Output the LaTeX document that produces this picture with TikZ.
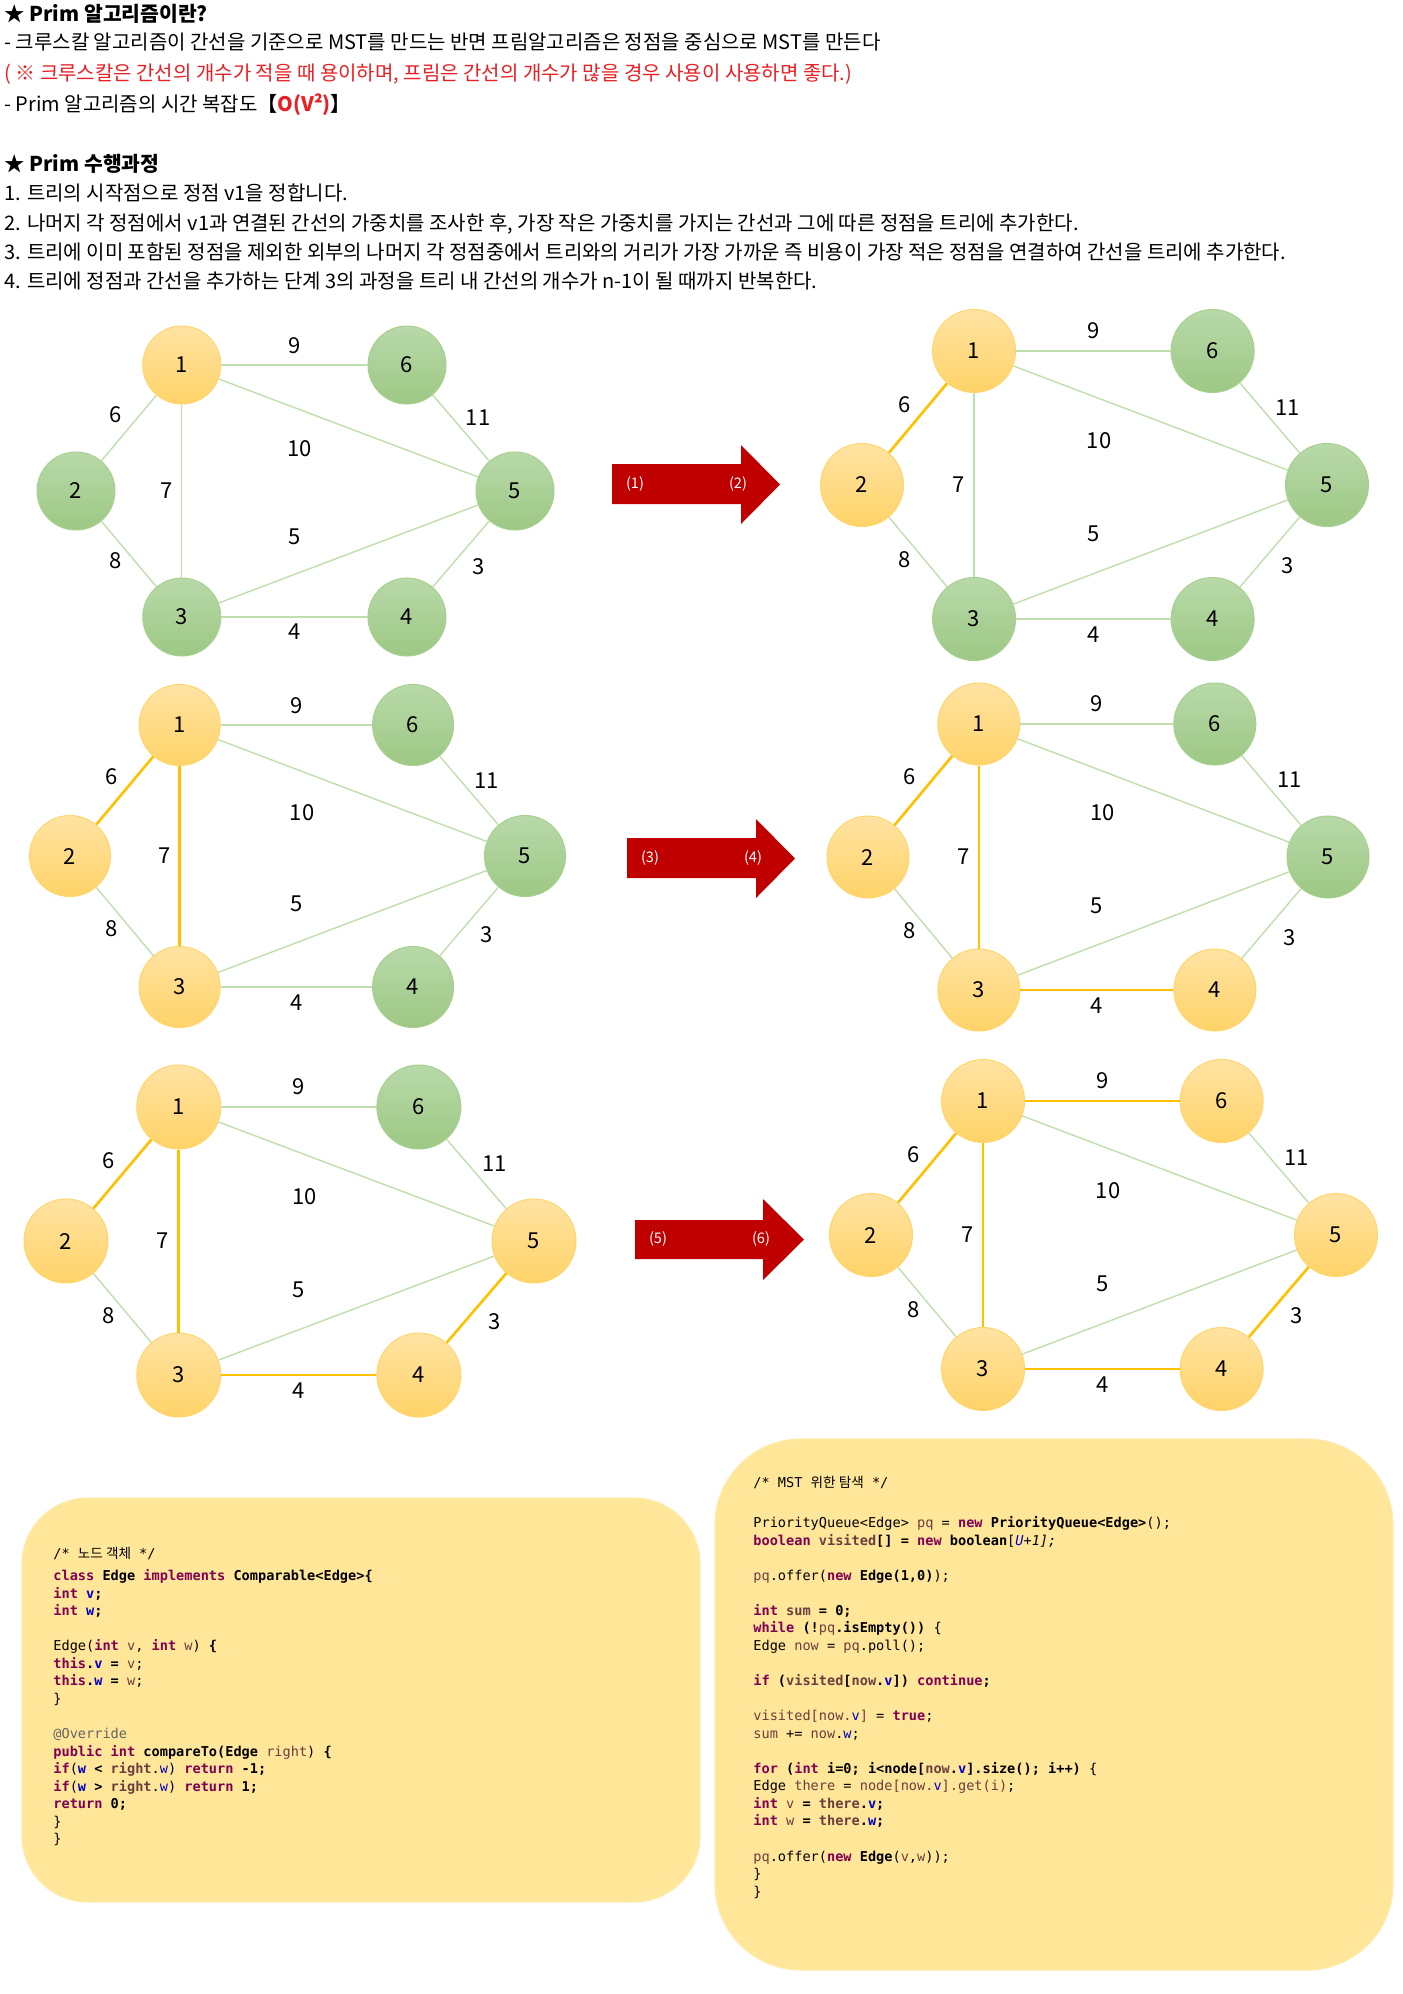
\documentclass[tikz,border=0pt]{standalone}
\usepackage{fontspec}
\setmainfont{Noto Sans CJK KR}
\setmonofont{DejaVu Sans Mono}
\newfontfamily\krf{Noto Sans CJK KR}
\definecolor{otop}{RGB}{255,227,163}
\definecolor{obot}{RGB}{255,211,104}
\definecolor{obd}{RGB}{255,214,110}
\definecolor{gtop}{RGB}{184,217,169}
\definecolor{gbot}{RGB}{157,200,132}
\definecolor{gbd}{RGB}{168,208,142}
\definecolor{gline}{RGB}{193,222,174}
\definecolor{oline}{RGB}{255,192,0}
\definecolor{arrred}{RGB}{192,0,0}
\definecolor{txtred}{RGB}{232,32,36}
\definecolor{boxfill}{RGB}{255,230,153}
\definecolor{kwc}{RGB}{127,0,85}
\definecolor{fdc}{RGB}{0,0,192}
\definecolor{lvc}{RGB}{106,62,62}
\definecolor{annc}{RGB}{100,100,100}
\newcommand\kw[1]{\textcolor{kwc}{\textbf{#1}}}
\newcommand\fd[1]{\textcolor{fdc}{#1}}
\newcommand\lv[1]{\textcolor{lvc}{#1}}
\newcommand\bd[1]{\textbf{#1}}
\tikzset{
  vtx/.style={circle, inner sep=0pt, line width=0.5pt, font=\fontsize{11}{13}\selectfont},
  gv/.style={top color=gtop, bottom color=gbot, draw=gbd},
  ov/.style={top color=otop, bottom color=obot, draw=obd},
  ge/.style={draw=gline, line width=0.7pt},
  oe/.style={draw=oline, line width=1.3pt},
  elab/.style={inner sep=0pt, font=\fontsize{11}{13}\selectfont},
  hdr/.style={anchor=base west, inner sep=0pt, font=\fontsize{10}{12}\selectfont},
  hdrb/.style={anchor=base west, inner sep=0pt, font=\fontsize{10.2}{12}\selectfont\bfseries},
  codetxt/.style={anchor=base west, inner sep=0pt, font=\ttfamily\fontsize{6.8}{8}\selectfont},
  arrlab/.style={inner sep=0pt, text=white, font=\fontsize{7.3}{8}\selectfont},
  codebox/.style={fill=boxfill, draw=boxfill!80!white, line width=0.6pt}
}
% vertex: #1 prefix #2 index #3 x #4 y #5 diameter(pt) #6 k
\newcommand\gnd[6]{%
  \ifnum#2>#6\relax\def\vxsty{gv}\else\def\vxsty{ov}\fi
  \node[vtx,\vxsty,minimum size=#5pt] (#1#2) at ({#3},{#4}) {#2};}
% edge: #1 prefix #2 a #3 b #4 order #5 k
\newcommand\gedge[5]{%
  \ifnum#4<#5\relax\def\egsty{oe}\else\def\egsty{ge}\fi
  \draw[\egsty] (#1#2) -- (#1#3);}
% graph: #1 prefix #2 X2 #3 Y #4 W #5 H #6 diameter(pt) #7 k
\newcommand\primgraph[7]{%
  \gnd{#1}{1}{#2+0.241*#4}{#3-#5}{#6}{#7}
  \gnd{#1}{6}{#2+0.754*#4}{#3-#5}{#6}{#7}
  \gnd{#1}{2}{#2}{#3}{#6}{#7}
  \gnd{#1}{5}{#2+#4}{#3}{#6}{#7}
  \gnd{#1}{3}{#2+0.241*#4}{#3+#5}{#6}{#7}
  \gnd{#1}{4}{#2+0.754*#4}{#3+#5}{#6}{#7}
  \gedge{#1}{1}{6}{5}{#7}
  \gedge{#1}{1}{2}{1}{#7}
  \gedge{#1}{6}{5}{99}{#7}
  \gedge{#1}{1}{5}{99}{#7}
  \gedge{#1}{1}{3}{2}{#7}
  \gedge{#1}{3}{5}{99}{#7}
  \gedge{#1}{2}{3}{99}{#7}
  \gedge{#1}{4}{5}{4}{#7}
  \gedge{#1}{3}{4}{3}{#7}
  \node[elab] (#1w9) at ({#2+0.497*#4},{#3-1.151*#5}) {9};
  \node[elab] (#1w6) at ({#2+0.091*#4},{#3-0.603*#5}) {6};
  \node[elab] (#1w11) at ({#2+0.916*#4},{#3-0.579*#5}) {11};
  \node[elab] (#1w10) at ({#2+0.510*#4},{#3-0.333*#5}) {10};
  \node[elab] (#1w7) at ({#2+0.207*#4},{#3}) {7};
  \node[elab] (#1w5) at ({#2+0.497*#4},{#3+0.365*#5}) {5};
  \node[elab] (#1w8) at ({#2+0.091*#4},{#3+0.556*#5}) {8};
  \node[elab] (#1w3) at ({#2+0.916*#4},{#3+0.603*#5}) {3};
  \node[elab] (#1w4) at ({#2+0.497*#4},{#3+1.119*#5}) {4};
}
\newcommand\codeln[4]{\node[codetxt] (#1) at (#2,{#3+4.5}) {#4};}
\begin{document}
\begin{tikzpicture}[x=0.5pt,y=-0.5pt]
\useasboundingbox (0,0) rectangle (1403,1994);
\fill[white] (0,0) rectangle (1403,1994);
% ---------- header ----------
\node[hdrb] (t0) at (4,21) {★ Prim 알고리즘이란?};
\node[hdr] (t1) at (4,49) {- 크루스칼 알고리즘이 간선을 기준으로 MST를 만드는 반면 프림알고리즘은 정점을 중심으로 MST를 만든다};
\node[hdr,text=txtred] (t2) at (4,80) {( ※ 크루스칼은 간선의 개수가 적을 때 용이하며, 프림은 간선의 개수가 많을 경우 사용이 사용하면 좋다.)};
\node[hdr] (t3) at (4,111) {- Prim 알고리즘의 시간 복잡도\textbf{【\textcolor{txtred}{O(V²)}】}};
\node[hdrb] (t4) at (4,171) {★ Prim 수행과정};
\node[hdr] (t5) at (4,200) {1. 트리의 시작점으로 정점 v1을 정합니다.};
\node[hdr] (t6) at (4,230) {2. 나머지 각 정점에서 v1과 연결된 간선의 가중치를 조사한 후, 가장 작은 가중치를 가지는 간선과 그에 따른 정점을 트리에 추가한다.};
\node[hdr] (t7) at (4,259) {3. 트리에 이미 포함된 정점을 제외한 외부의 나머지 각 정점중에서 트리와의 거리가 가장 가까운 즉 비용이 가장 적은 정점을 연결하여 간선을 트리에 추가한다.};
\node[hdr] (t8) at (4,288) {4. 트리에 정점과 간선을 추가하는 단계 3의 과정을 트리 내 간선의 개수가 n-1이 될 때까지 반복한다.};
% ---------- graphs ----------
\primgraph{A}{76}{491}{439}{126}{39}{1}
\primgraph{B}{862}{485}{465}{134}{41.5}{2}
\primgraph{C}{70}{856}{455}{131}{40.5}{3}
\primgraph{D}{868}{857}{460}{133}{41}{4}
\primgraph{E}{66}{1241}{468}{134}{42}{5}
\primgraph{F}{871}{1235}{465}{134}{41.5}{6}
% ---------- arrows ----------
\fill[arrred] (612,464) -- (741,464) -- (741,445) -- (780,484.5) -- (741,524) -- (741,504) -- (612,504) -- cycle;
\node[arrlab] (al1) at (635,484) {(1)};
\node[arrlab] (al2) at (738,484) {(2)};
\fill[arrred] (627,838) -- (756,838) -- (756,819) -- (795,858.5) -- (756,898) -- (756,878) -- (627,878) -- cycle;
\node[arrlab] (al3) at (650,858) {(3)};
\node[arrlab] (al4) at (753,858) {(4)};
\fill[arrred] (635,1220) -- (763,1220) -- (763,1199) -- (804,1239.5) -- (763,1280) -- (763,1259) -- (635,1259) -- cycle;
\node[arrlab] (al5) at (658,1239) {(5)};
\node[arrlab] (al6) at (761,1239) {(6)};
% ---------- code boxes ----------
\path[codebox, rounded corners=33pt] (22,1498) rectangle (700,1902);
\path[codebox, rounded corners=43pt] (715,1439) rectangle (1393,1970);
% left code
\codeln{lc0}{53}{1554}{/* {\krf 노드 객체} */}
\codeln{lc1}{53}{1576}{\kw{class} \bd{Edge} \kw{implements} \bd{Comparable<Edge>\{}}
\codeln{lc2}{53}{1593.5}{\kw{int} \fd{\bd{v}}\bd{;}}
\codeln{lc3}{53}{1611.1}{\kw{int} \fd{\bd{w}}\bd{;}}
\codeln{lc4}{53}{1646.2}{Edge(\kw{int} \lv{v}, \kw{int} \lv{w}) \bd{\{}}
\codeln{lc5}{53}{1663.8}{\kw{this}\bd{.}\fd{\bd{v}} \bd{=} \lv{v};}
\codeln{lc6}{53}{1681.3}{\kw{this}\bd{.}\fd{\bd{w}} \bd{=} \lv{w};}
\codeln{lc7}{53}{1698.9}{\}}
\codeln{lc8}{53}{1734}{\textcolor{annc}{@Override}}
\codeln{lc9}{53}{1751.5}{\kw{public} \kw{int} \bd{compareTo(Edge} \lv{right}) \bd{\{}}
\codeln{lc10}{53}{1769.1}{\kw{if}(\fd{\bd{w}} \bd{<} \lv{\bd{right}}.\fd{w}) \kw{return} \bd{-1;}}
\codeln{lc11}{53}{1786.6}{\kw{if}(\fd{\bd{w}} \bd{>} \lv{\bd{right}}.\fd{w}) \kw{return} \bd{1;}}
\codeln{lc12}{53}{1804.2}{\kw{return} \bd{0;}}
\codeln{lc13}{53}{1821.7}{\}}
\codeln{lc14}{53}{1839.3}{\}}
% right code
\codeln{rc0}{753}{1483}{/* MST {\krf 위한 탐색} */}
\codeln{rc1}{753}{1523}{PriorityQueue<Edge> \lv{pq} = \kw{new} \bd{PriorityQueue<Edge>}();}
\codeln{rc2}{753}{1540.5}{\kw{boolean} \lv{\bd{visited}}\bd{[] =} \kw{new} \bd{boolean}[\fd{\textit{U}}\textit{+1];}}
\codeln{rc3}{753}{1575.6}{\lv{pq}.offer(\kw{new} \bd{Edge(1,0)});}
\codeln{rc4}{753}{1610.8}{\kw{int} \lv{\bd{sum}} \bd{= 0;}}
\codeln{rc5}{753}{1628.3}{\kw{while} \bd{(!}\lv{pq}\bd{.isEmpty())} \{}
\codeln{rc6}{753}{1645.9}{Edge \lv{now} = \lv{pq}.poll();}
\codeln{rc7}{753}{1681}{\kw{if} \bd{(}\lv{\bd{visited}}\bd{[}\lv{\bd{now}}\bd{.}\fd{\bd{v}}\bd{])} \kw{continue}\bd{;}}
\codeln{rc8}{753}{1716.1}{\lv{visited[now.}\fd{v}\lv{]} = \kw{true};}
\codeln{rc9}{753}{1733.6}{\lv{sum} += \lv{now}.\fd{w};}
\codeln{rc10}{753}{1768.7}{\kw{for} \bd{(}\kw{int} \bd{i=0; i<node[}\lv{\bd{now}}\bd{.}\fd{\bd{v}}\bd{].size(); i++)} \{}
\codeln{rc11}{753}{1786.3}{Edge \lv{there} = \lv{node[now.}\fd{v}\lv{].get(i)};}
\codeln{rc12}{753}{1803.8}{\kw{int} \lv{v} \bd{=} \lv{\bd{there}}\bd{.}\fd{\bd{v}}\bd{;}}
\codeln{rc13}{753}{1821.4}{\kw{int} \lv{w} \bd{=} \lv{\bd{there}}\bd{.}\fd{\bd{w}}\bd{;}}
\codeln{rc14}{753}{1856.5}{\lv{pq}.offer(\kw{new} \bd{Edge}(\lv{v},\lv{w}));}
\codeln{rc15}{753}{1874}{\}}
\codeln{rc16}{753}{1891.6}{\}}
\end{tikzpicture}
\end{document}
